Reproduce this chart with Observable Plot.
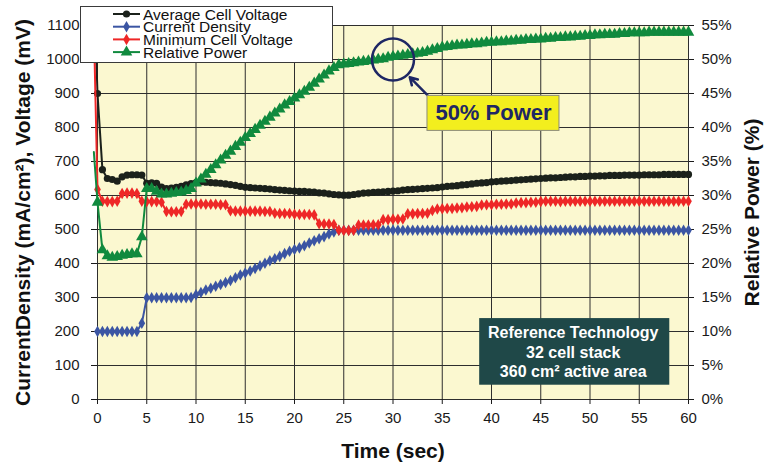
<!DOCTYPE html>
<html><head><meta charset="utf-8">
<script src="https://cdn.jsdelivr.net/npm/d3@7"></script>
<script src="https://cdn.jsdelivr.net/npm/@observablehq/plot@0.6"></script>
<style>
html,body{margin:0;padding:0;background:#fff;}
#chart{position:relative;width:765px;height:466px;}
</style></head><body><div id="chart"></div>
<script>
// ---------- data ----------
const time = [
 0,0.5,1,1.5,2,2.5,3,3.5,4,4.5, 5,5.5,6,6.5,7,7.5,8,8.5,9,9.5,
 10,10.5,11,11.5,12,12.5,13,13.5,14,14.5, 15,15.5,16,16.5,17,17.5,18,18.5,19,19.5,
 20,20.5,21,21.5,22,22.5,23,23.5,24,24.5, 25,25.5,26,26.5,27,27.5,28,28.5,29,29.5,
 30,30.5,31,31.5,32,32.5,33,33.5,34,34.5, 35,35.5,36,36.5,37,37.5,38,38.5,39,39.5,
 40,40.5,41,41.5,42,42.5,43,43.5,44,44.5, 45,45.5,46,46.5,47,47.5,48,48.5,49,49.5,
 50,50.5,51,51.5,52,52.5,53,53.5,54,54.5, 55,55.5,56,56.5,57,57.5,58,58.5,59,59.5, 60];

const avgCellVoltage = [
 900,676,650,647,642,655,660,661,661,660, 636,637,636,625,620,622,624,627,631,635,
 638,640,639,638,637,636,634,632,630,627, 624,623,622,621,620,619,617,616,615,614,
 613,612,612,611,610,608,607,605,603,602, 601,601,603,605,607,608,609,610,611,612,
 613,614,616,617,618,619,620,621,622,623, 625,627,628,629,631,632,634,636,637,638,
 640,641,642,643,644,645,646,647,648,649, 650,651,652,652,653,654,655,655,656,656,
 657,657,658,658,659,659,659,660,660,660, 660,661,661,661,661,662,662,662,662,662, 662];

const currentDensity = [
 200,200,200,200,200,200,200,200,200,224, 299,299,299,299,299,299,299,299,299,300,
 308,315,322,327,333,338,344,350,358,366, 372,378,385,393,401,408,414,421,429,436,
 441,446,452,460,467,473,479,487,493,498, 498,498,498,498,498,498,498,498,498,498,
 498,498,498,498,498,498,498,498,498,498, 498,498,498,498,498,498,498,498,498,498,
 498,498,498,498,498,498,498,498,498,498, 498,498,498,498,498,498,498,498,498,498,
 498,498,498,498,498,498,498,498,498,498, 498,498,498,498,498,498,498,498,498,498, 498];

const minCellVoltage = [
 618,583,582,582,583,606,607,607,606,583, 582,582,582,580,553,552,552,553,574,575,
 575,575,574,574,574,573,573,555,554,554, 554,554,554,554,553,553,548,547,547,547,
 545,544,544,544,543,517,516,516,515,498, 497,497,498,513,513,513,514,514,529,529,
 530,530,531,546,546,547,547,548,556,560, 561,562,562,563,564,566,567,568,572,573,
 573,574,574,575,575,578,579,579,580,580, 582,583,583,583,582,583,583,583,583,583,
 583,583,583,583,583,583,583,583,583,583, 583,583,583,583,583,583,583,583,583,583, 583];

const relativePower = [
 29.0,22.0,21.1,20.9,21.0,21.2,21.3,21.4,21.4,23.9, 31.0,31.0,30.6,30.2,30.2,30.3,30.4,30.5,30.7,31.0,
 31.8,32.4,33.1,33.8,34.5,35.2,35.9,36.5,37.2,37.8, 38.5,39.1,39.7,40.3,40.9,41.5,42.1,42.7,43.3,43.8,
 44.3,44.8,45.3,45.9,46.5,47.1,47.7,48.3,48.8,49.2, 49.3,49.4,49.5,49.6,49.7,49.8,49.9,50.0,50.1,50.3,
 50.4,50.5,50.6,50.7,50.8,50.9,51.0,51.2,51.4,51.6, 51.8,51.9,52.0,52.1,52.1,52.2,52.3,52.3,52.4,52.5,
 52.5,52.6,52.6,52.7,52.7,52.8,52.8,52.9,52.9,53.0, 53.0,53.1,53.1,53.2,53.2,53.3,53.3,53.4,53.4,53.5,
 53.5,53.6,53.6,53.7,53.7,53.7,53.8,53.8,53.9,53.9, 53.9,53.9,54.0,54.0,54.0,54.0,54.0,54.0,54.0,54.0, 54.0];

// start-up readings just before t = 0 (line runs off the top)
const avgLead = [-0.28, 1140];
const minLead = [-0.4, 1140];
const powerLead = [-0.37, 36.4];

const xTicks = [0,5,10,15,20,25,30,35,40,45,50,55,60];
const yTicks = [0,100,200,300,400,500,600,700,800,900,1000,1100];
const pctTicks = [0,5,10,15,20,25,30,35,40,45,50,55];

const seriesNames = ["Average Cell Voltage","Current Density","Minimum Cell Voltage","Relative Power"];
const seriesColors = ["#1b211b","#3b55a3","#ee2727","#108a3e"];

// annotations
const callout = [{t:30, v:1000}];
const calloutArrow = [{x1:33.5, y1:895, x2:31.7, y2:948}];
const calloutBox = [{x1:33.5, x2:46.9, y1:790, y2:893, label:"50% Power"}];
const infoBox = [{x1:38.8, x2:58.1, y1:42, y2:238}];
const infoLines = ["Reference Technology","32 cell stack","360 cm\u00B2 active area"];
const infoLineY = [195, 138, 80];

// ---------- build ----------
const pctToMv = p => p * 20;
const rows = (vals, f = d => d) => time.map((t, i) => ({t, v: f(vals[i])}));
const avgRows = rows(avgCellVoltage);
const curRows = rows(currentDensity);
const minRows = rows(minCellVoltage);
const powRows = rows(relativePower, pctToMv);
const avgLine = [{t: avgLead[0], v: avgLead[1]}, ...avgRows];
const minLine = [{t: minLead[0], v: minLead[1]}, ...minRows];
const powLine = [{t: powerLead[0], v: pctToMv(powerLead[1])}, ...powRows];

const FONT = "'Liberation Sans', Arial, Helvetica, sans-serif";
const navy = "#1e2764";

const chart = Plot.plot({
  width: 765, height: 466,
  marginLeft: 97, marginRight: 77, marginTop: 25, marginBottom: 67,
  style: {fontFamily: FONT, fontSize: "15px", background: "white", color: "#1a1a1a", overflow: "visible"},
  x: {domain: [0, 60]},
  y: {domain: [0, 1100]},
  marks: [
    Plot.frame({fill: "#FBF8D0", stroke: null}),
    Plot.gridX(xTicks, {stroke: "#2e2e2e", strokeOpacity: 1, strokeWidth: 1}),
    Plot.gridY(yTicks, {stroke: "#2e2e2e", strokeOpacity: 1, strokeWidth: 1}),
    Plot.axisX(xTicks, {tickSize: 5, tickPadding: 8, fontSize: 15, label: null, tickFormat: d => String(d)}),
    Plot.axisY(yTicks, {anchor: "left", tickSize: 6, tickPadding: 12, fontSize: 15, label: null, tickFormat: d => String(d)}),
    Plot.axisY(pctTicks.map(pctToMv), {anchor: "right", tickSize: 5, tickPadding: 8, fontSize: 15, label: null, tickFormat: d => (d / 20) + "%"}),

    Plot.line(avgLine, {x: "t", y: "v", stroke: seriesColors[0], strokeWidth: 2}),
    Plot.dot(avgRows, {x: "t", y: "v", fill: seriesColors[0], r: 3.6, symbol: "circle"}),
    Plot.line(curRows, {x: "t", y: "v", stroke: seriesColors[1], strokeWidth: 2}),
    Plot.dot(curRows, {x: "t", y: "v", fill: seriesColors[1], r: 3.5, symbol: "diamond"}),
    Plot.line(minLine, {x: "t", y: "v", stroke: seriesColors[2], strokeWidth: 2}),
    Plot.dot(minRows, {x: "t", y: "v", fill: seriesColors[2], r: 3.5, symbol: "diamond"}),
    Plot.line(powLine, {x: "t", y: "v", stroke: seriesColors[3], strokeWidth: 2}),
    Plot.dot(powRows, {x: "t", y: "v", fill: seriesColors[3], r: 4.3, symbol: "triangle"}),

    // 50% power callout
    Plot.dot(callout, {x: "t", y: "v", r: 21, stroke: navy, strokeWidth: 2.5, fill: "none"}),
    Plot.arrow(calloutArrow, {x1: "x1", y1: "y1", x2: "x2", y2: "y2", stroke: navy, strokeWidth: 2.5, headLength: 11}),
    Plot.rect(calloutBox, {x1: "x1", x2: "x2", y1: "y1", y2: "y2", fill: "#F3EE1E", stroke: "#8c8c7a", strokeWidth: 1}),
    Plot.text(calloutBox, {x: d => (d.x1 + d.x2) / 2, y: d => (d.y1 + d.y2) / 2, text: "label", fill: navy, fontWeight: "bold", fontSize: 22}),

    // info box
    Plot.rect(infoBox, {x1: "x1", x2: "x2", y1: "y1", y2: "y2", fill: "#1f4848"}),
    Plot.text(infoLines, {x: () => 48.3, y: (d, i) => infoLineY[i], text: d => d, fill: "white", fontWeight: "bold", fontSize: 16}),

    // axis titles
    Plot.text(["CurrentDensity (mA/cm\u00B2), Voltage (mV)"], {frameAnchor: "left", dx: -74, rotate: -90, textAnchor: "middle", lineAnchor: "middle", fontWeight: "bold", fontSize: 21, fill: "#111"}),
    Plot.text(["Relative Power (%)"], {frameAnchor: "right", dx: 64, rotate: -90, textAnchor: "middle", lineAnchor: "middle", fontWeight: "bold", fontSize: 21, fill: "#111"}),
    Plot.text(["Time (sec)"], {frameAnchor: "bottom", dy: 52, textAnchor: "middle", lineAnchor: "middle", fontWeight: "bold", fontSize: 21, fill: "#111"})
  ]
});
document.getElementById("chart").appendChild(chart);

// ---------- legend (overlaid, top-left) ----------
const svg = d3.select(chart);
const lg = svg.append("g").attr("font-family", FONT).attr("font-size", 15.5).attr("text-anchor", "start");
lg.append("rect").attr("x", 80.5).attr("y", 6.5).attr("width", 252).attr("height", 56)
  .attr("fill", "white").attr("stroke", "#3a3a3a").attr("stroke-width", 1);
const legendSymbols = [[d3.symbolCircle, 3.6], [d3.symbolDiamond, 3.5], [d3.symbolDiamond, 3.5], [d3.symbolTriangle, 4.3]];
seriesNames.forEach((name, i) => {
  const y = 14 + i * 12.7;
  lg.append("line").attr("x1", 113).attr("x2", 140).attr("y1", y).attr("y2", y)
    .attr("stroke", seriesColors[i]).attr("stroke-width", 2);
  const [type, r] = legendSymbols[i];
  lg.append("path").attr("d", d3.symbol(type, Math.PI * r * r)()).attr("transform", `translate(126.5,${y})`)
    .attr("fill", seriesColors[i]);
  lg.append("text").attr("x", 143).attr("y", y + 5.5).attr("text-anchor", "start").attr("fill", "#111").text(name);
});
</script>
</body></html>
